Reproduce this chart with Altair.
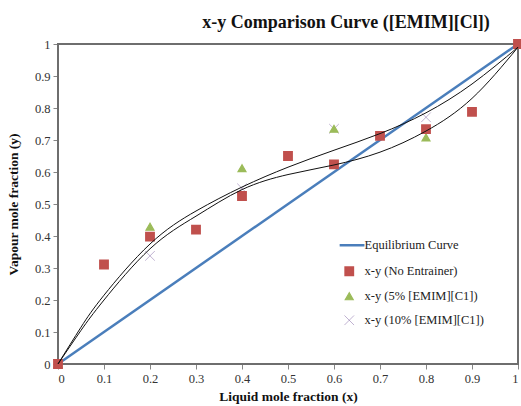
import altair as alt
import pandas as pd

# ---- data ----
series_names = ["Equilibrium Curve", "x-y (No Entrainer)", "x-y (5% [EMIM][C1])", "x-y (10% [EMIM][C1])"]

eq_x = [0.0, 1.0]
eq_y = [0.0, 1.0]

no_x = [0.0, 0.1, 0.2, 0.3, 0.4, 0.5, 0.6, 0.7, 0.8, 0.9, 1.0]
no_y = [0.0, 0.311, 0.398, 0.42, 0.525, 0.65, 0.624, 0.713, 0.734, 0.788, 1.0]

p5_x = [0.0, 0.2, 0.4, 0.6, 0.8, 1.0]
p5_y = [0.0, 0.429, 0.612, 0.735, 0.708, 1.0]

p10_x = [0.0, 0.2, 0.4, 0.6, 0.8, 1.0]
p10_y = [0.0, 0.338, 0.549, 0.735, 0.771, 1.0]

# trend curves (black)
fit_x = [0.0, 0.05, 0.1, 0.2, 0.3, 0.4, 0.5, 0.6, 0.7, 0.8, 0.9, 1.0]
fitA_y = [0.0, 0.115, 0.215, 0.375, 0.478, 0.553, 0.615, 0.668, 0.72, 0.785, 0.875, 0.99]
fitB_y = [0.0, 0.105, 0.2, 0.36, 0.462, 0.545, 0.592, 0.622, 0.662, 0.728, 0.83, 0.99]

tick_values = [0.0, 0.1, 0.2, 0.3, 0.4, 0.5, 0.6, 0.7, 0.8, 0.9, 1.0]

colors = ["#4a7ebb", "#c0504d", "#9bbb59", "#8064a2"]
shapes = ["M-2.4,0L3.8,0", "square", "triangle-up", "M-1.2,-1.2L1.2,1.2M-1.2,1.2L1.2,-1.2"]
stroke_widths = [2.5, 0.5, 0.5, 1]

# ---- tables ----
eq_df = pd.DataFrame({"x": eq_x, "y": eq_y})
pts = pd.concat([
    pd.DataFrame({"x": no_x, "y": no_y, "series": series_names[1]}),
    pd.DataFrame({"x": p5_x, "y": p5_y, "series": series_names[2]}),
    pd.DataFrame({"x": p10_x, "y": p10_y, "series": series_names[3]}),
], ignore_index=True)
fit_df = pd.concat([
    pd.DataFrame({"x": fit_x, "y": fitA_y, "curve": "A"}),
    pd.DataFrame({"x": fit_x, "y": fitB_y, "curve": "B"}),
], ignore_index=True)

serif = "Liberation Serif"

axis_style = dict(grid=False, tickSize=5, labelPadding=3, labelOverlap=False,
                  labelFont=serif, labelFontSize=12.5, labelColor="#333",
                  titleFont=serif, titleFontSize=13.5, titleFontWeight="bold", titleColor="#111",
                  domainColor="#868686", tickColor="#868686", domainWidth=1,
                  values=tick_values, format="~g")


def X():
    return alt.X("x:Q", scale=alt.Scale(domain=[0, 1], nice=False),
                 axis=alt.Axis(title="Liquid mole fraction (x)", titlePadding=5, **axis_style))


def Y():
    return alt.Y("y:Q", scale=alt.Scale(domain=[0, 1], nice=False),
                 axis=alt.Axis(title="Vapour mole fraction (y)", titlePadding=14, **axis_style))


# plot-area frame (decoration)
frame = alt.Chart(eq_df.head(1)).mark_rect(fillOpacity=0, stroke="#6e6e6e", strokeWidth=2).encode(
    x=alt.value(0), x2=alt.value(460), y=alt.value(0), y2=alt.value(320)
)

eq_line = alt.Chart(eq_df).mark_line(color=colors[0], strokeWidth=2.5).encode(x=X(), y=Y())

legend = alt.Legend(title=None, orient="none", legendX=285, legendY=195, labelFont=serif,
                    labelFontSize=12.5, labelColor="#222", rowPadding=11, symbolSize=64,
                    labelOffset=9, padding=0)

points = alt.Chart(pts).mark_point(filled=True, size=64, opacity=1).encode(
    x=X(),
    y=Y(),
    fill=alt.Fill("series:N", scale=alt.Scale(domain=series_names, range=colors), legend=legend, sort=series_names),
    stroke=alt.Stroke("series:N", scale=alt.Scale(domain=series_names, range=colors), legend=legend, sort=series_names),
    shape=alt.Shape("series:N", scale=alt.Scale(domain=series_names, range=shapes), legend=legend, sort=series_names),
    strokeWidth=alt.StrokeWidth("series:N", scale=alt.Scale(domain=series_names, range=stroke_widths), legend=legend, sort=series_names),
    order=alt.Order("series:N"),
)

fits = alt.Chart(fit_df).mark_line(color="#111111", strokeWidth=1, interpolate="natural").encode(
    x=X(),
    y=Y(),
    detail="curve:N",
)

chart = alt.layer(frame, eq_line, points, fits).properties(
    width=460,
    height=320,
    title=alt.TitleParams("x-y Comparison Curve ([EMIM][Cl])", font=serif, fontSize=18,
                          fontWeight="bold", anchor="middle", frame="group", dx=58, offset=4,
                          color="#111"),
    padding={"left": 58, "top": 44, "right": 3, "bottom": 42},
    autosize=alt.AutoSizeParams(type="none"),
    background="white",
).configure_view(
    stroke="#767676", strokeWidth=1.5
)

chart.save("out.html", embed_options={"renderer": "svg", "actions": False})
